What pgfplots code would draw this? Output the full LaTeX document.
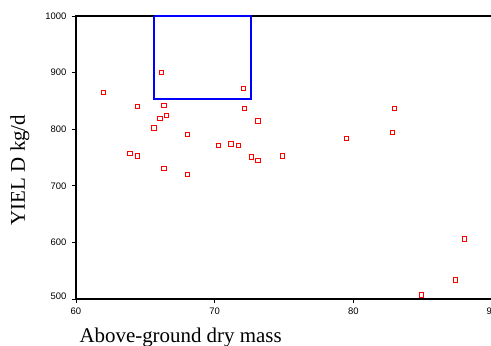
\documentclass[border=0pt]{standalone}
\usepackage{fontspec}
\setmainfont{Liberation Serif}
\newfontfamily\arial{Liberation Sans}
\usepackage{pgfplots}
\pgfplotsset{compat=1.18}
\begin{document}
\begin{tikzpicture}
\useasboundingbox (0,0) rectangle (491bp,346bp);
\clip (0,0) rectangle (491bp,346bp);
\begin{axis}[
  at={(76bp,47bp)}, anchor=south west,
  scale only axis, width=416bp, height=283bp,
  xmin=60, xmax=90, ymin=500, ymax=1000,
  xtick={60,70,80,90}, xticklabels={60,70,80,90},
  ytick={500,600,700,800,900,1000},
  yticklabels={\raisebox{5bp}{500},600,700,800,900,1000},
  tick align=outside, tick pos=left,
  major tick length=4bp,
  tick label style={font=\arial\fontsize{9.5}{10}\selectfont, text=black},
  xticklabel style={yshift=-1bp},
  yticklabel style={xshift=-2bp},
  /pgf/number format/assume math mode=true,
  axis line style={black, line width=1.1bp},
  tick style={black, line width=0.8bp},
  clip=false,
  xlabel={Above-ground dry mass},
  ylabel={YIEL D kg/d},
  xlabel style={font=\fontsize{21}{24}\selectfont, anchor=base west, at={(axis description cs:0.0,-0.152)}},
  ylabel style={font=\fontsize{21}{24}\selectfont, anchor=center, rotate=0, at={(axis description cs:-0.135,0.456)}},
]
\addplot[only marks, mark=square, mark size=2.2bp, red, mark options={line width=0.8bp}] coordinates {
(61.98,865) (66.18,900) (64.42,840) (66.33,842) (66.04,819) (66.5,824)
(65.63,802) (68.02,791) (63.89,757.5) (64.42,753) (66.33,731) (68.02,720)
(70.27,771) (71.18,774) (71.69,771) (72.08,872) (72.15,837) (73.12,815)
(72.63,751) (73.12,745) (74.88,753) (79.49,784) (82.97,837) (82.8,794)
(88.02,606) (87.37,534) (84.9,507)
};
\addplot[blue, line width=1.8bp] coordinates {(65.65,1000) (65.65,854) (72.6,854) (72.6,1000) (65.65,1000)};
\end{axis}
\end{tikzpicture}
\end{document}
